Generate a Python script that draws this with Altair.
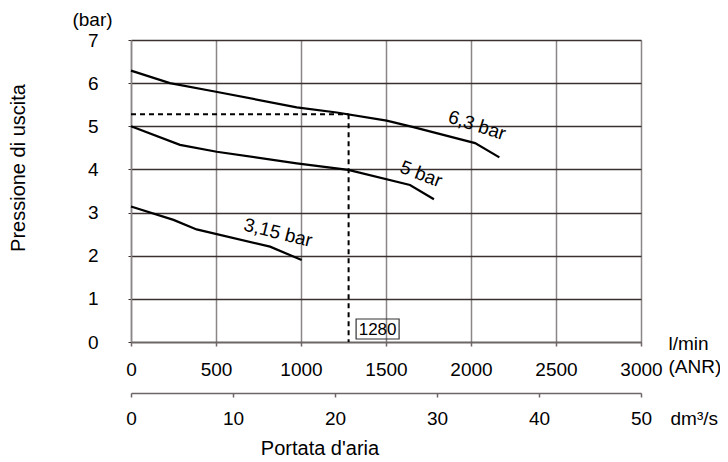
import altair as alt
import pandas as pd

# ---- data ----
flow_63 = [0, 229, 500, 975, 1210, 1504, 1661, 2024, 2167]
p_63 = [6.29, 6.0, 5.80, 5.44, 5.32, 5.13, 4.98, 4.61, 4.28]

flow_5 = [0, 288, 504, 975, 1278, 1641, 1782]
p_5 = [5.0, 4.57, 4.41, 4.14, 3.99, 3.64, 3.31]

flow_315 = [0, 250, 386, 818, 1004]
p_315 = [3.14, 2.83, 2.61, 2.21, 1.90]

x_ticks = [0, 500, 1000, 1500, 2000, 2500, 3000]
y_ticks = [0, 1, 2, 3, 4, 5, 6, 7]
dm_ticks = [0, 10, 20, 30, 40, 50]

op_flow = 1280
op_p = 5.28

labels_txt = ["6,3 bar", "5 bar", "3,15 bar"]
labels_x = [2035, 1706, 865]
labels_y = [5.02, 3.89, 2.53]
labels_ang = [18, 21, 14]

FONT = "Liberation Sans"
W, H = 510, 302

rows = []
for name, xs_, ys_ in [("6,3", flow_63, p_63), ("5", flow_5, p_5), ("3,15", flow_315, p_315)]:
    for a, b in zip(xs_, ys_):
        rows.append({"curve": name, "flow": a, "p": b})
df = pd.DataFrame(rows)

dash_df = pd.DataFrame({
    "seg": ["h", "h", "v", "v"],
    "flow": [0, op_flow, op_flow, op_flow],
    "p": [op_p, op_p, op_p, 0],
})

xs = alt.Scale(domain=[0, 3000], nice=False, zero=False)
ys = alt.Scale(domain=[0, 7], nice=False)

x_axis = alt.Axis(
    values=x_ticks, format="d", grid=True, gridColor="#8c8686", gridWidth=1.5,
    domainColor="#6e6666", domainWidth=1.5, tickColor="#6e6666", tickSize=4, tickWidth=1.5,
    labelFont=FONT, labelFontSize=19, labelColor="black", labelBaseline="middle",
    labelPadding=23, labelFlush=False, labelOverlap=False,
    title=["l/min", "(ANR)"], titleFont=FONT, titleFontSize=19, titleFontWeight="normal",
    titleColor="black", titleAlign="left", titleBaseline="middle",
    titleX=537, titleY=1, titleLineHeight=23,
)
y_axis = alt.Axis(
    values=y_ticks, format="d", grid=True, gridColor="#3a3030", gridWidth=1.3,
    domainColor="#8c8686", domainWidth=1.5, tickColor="#3a3030", tickSize=3,
    labelFont=FONT, labelFontSize=19, labelColor="black", labelPadding=30,
    title="(bar)", titleFont=FONT, titleFontSize=19, titleFontWeight="normal",
    titleColor="black", titleAngle=0, titleAlign="center", titleBaseline="middle",
    titleX=-39, titleY=-21,
)

X = lambda: alt.X("flow:Q", scale=xs, axis=None)
Y = lambda: alt.Y("p:Q", scale=ys, axis=None)

lines = alt.Chart(df).mark_line(color="black", strokeWidth=2.2).encode(
    x=alt.X("flow:Q", scale=xs, axis=x_axis),
    y=alt.Y("p:Q", scale=ys, axis=y_axis),
    detail="curve:N",
)

dashes = alt.Chart(dash_df).mark_line(color="black", strokeWidth=2, strokeDash=[5, 4]).encode(
    x=X(), y=Y(), detail="seg:N",
)

op_df = pd.DataFrame({"flow": [op_flow], "p": [0], "t": [str(op_flow)]})
op_box = alt.Chart(op_df).mark_point(
    shape="M-1,-0.465H1V0.465H-1Z", size=43 * 43, filled=False, stroke="#333333",
    strokeWidth=1.2, xOffset=29, yOffset=-13, opacity=1,
).encode(x=X(), y=Y())
op_text = alt.Chart(op_df).mark_text(
    font=FONT, fontSize=17, color="black", align="center", baseline="middle",
    dx=29, dy=-12,
).encode(x=X(), y=Y(), text="t:N")

curve_labels = []
for t, lx, ly, ang in zip(labels_txt, labels_x, labels_y, labels_ang):
    ldf = pd.DataFrame({"flow": [lx], "p": [ly], "t": [t]})
    curve_labels.append(
        alt.Chart(ldf).mark_text(font=FONT, fontSize=19, color="black", angle=ang,
                                 align="center", baseline="middle").encode(
            x=X(), y=Y(), text="t:N",
        )
    )

titles_df = pd.DataFrame({"t": ["Pressione di uscita"]})
ytitle = alt.Chart(titles_df).mark_text(
    font=FONT, fontSize=20, color="black", angle=270, align="center", baseline="middle"
).encode(x=alt.value(-112), y=alt.value(128), text="t:N")
ytitle_right = alt.Chart(titles_df).mark_text(
    font=FONT, fontSize=20, color="black", angle=270, align="center", baseline="middle"
).encode(x=alt.value(600), y=alt.value(128), text="t:N")
xtitle = alt.Chart(pd.DataFrame({"t": ["Portata d'aria"]})).mark_text(
    font=FONT, fontSize=20, color="black", align="center", baseline="middle"
).encode(x=alt.value(189), y=alt.value(409), text="t:N")

dm_df = pd.DataFrame({"dm": dm_ticks})
dm_layer = alt.Chart(dm_df).mark_point(opacity=0).encode(
    x=alt.X("dm:Q", scale=alt.Scale(domain=[0, 50], nice=False),
            axis=alt.Axis(orient="bottom", offset=51, values=dm_ticks, grid=False,
                          domainColor="#6e6666", domainWidth=1.5, tickColor="#6e6666",
                          tickSize=4, tickWidth=1.5, labelFont=FONT, labelFontSize=19,
                          labelColor="black", labelBaseline="middle", labelPadding=21,
                          labelFlush=False, labelOverlap=False,
                          title="dm³/s", titleFont=FONT, titleFontSize=19,
                          titleFontWeight="normal", titleColor="black", titleAlign="left",
                          titleBaseline="middle", titleX=539, titleY=25)),
    y=alt.value(0),
)

chart = alt.layer(
    lines, dashes, op_box, op_text, *curve_labels, ytitle, ytitle_right, xtitle, dm_layer
).resolve_scale(x="independent", y="independent").properties(
    width=W, height=H,
    autosize=alt.AutoSizeParams(type="none"),
    padding={"left": 123, "top": 32, "right": 79, "bottom": 120},
).configure_view(stroke="#8c8686", strokeWidth=1.5).configure(background="white")

chart.save("out.html", embed_options={"renderer": "svg", "actions": False})
